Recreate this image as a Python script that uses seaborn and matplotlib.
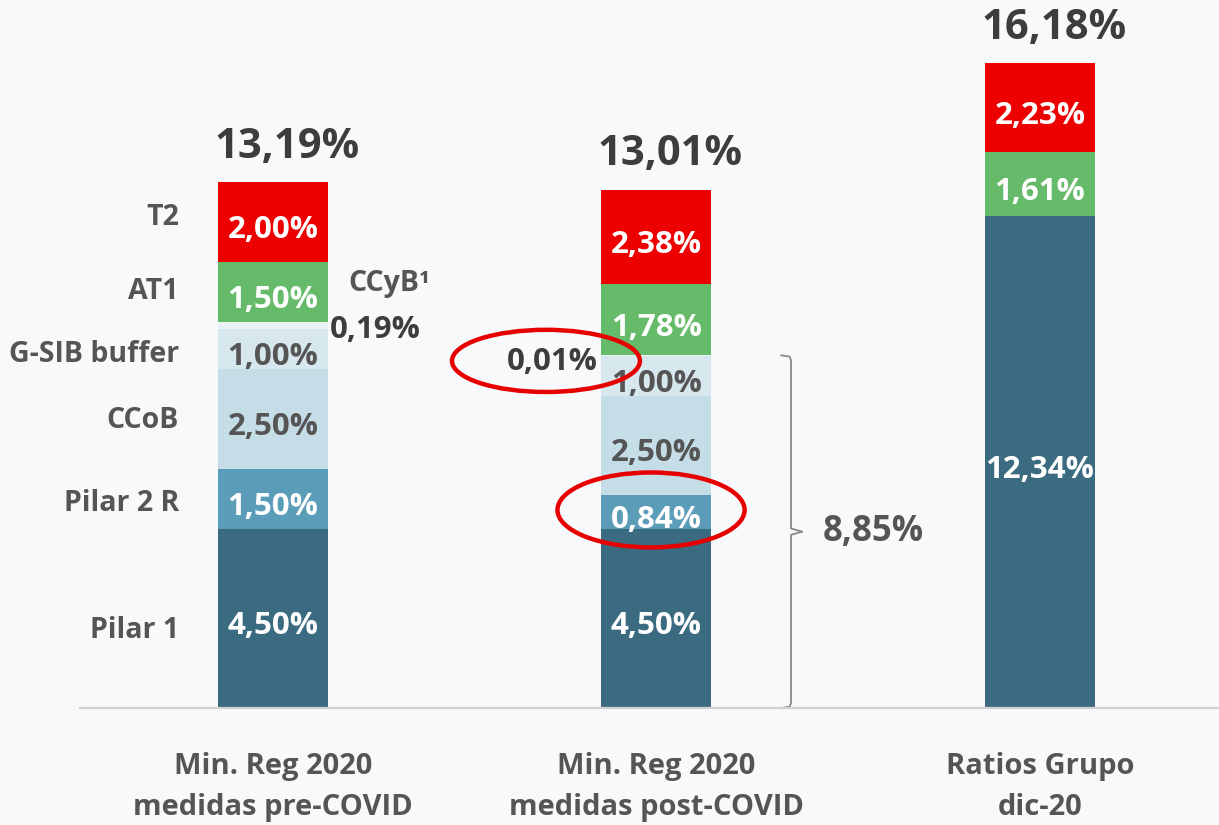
import matplotlib
matplotlib.use("Agg")
import matplotlib.pyplot as plt
from matplotlib import font_manager as fm
from matplotlib.patches import Ellipse
import seaborn as sns

# Capital requirement stacks (%), bottom to top
categories = ["Min. Reg 2020\nmedidas pre-COVID",
              "Min. Reg 2020\nmedidas post-COVID",
              "Ratios Grupo\ndic-20"]
pilar1 = [4.50, 4.50, 12.34]
pilar2r = [1.50, 0.84, 0.00]
ccob = [2.50, 2.50, 0.00]
gsib = [1.00, 1.00, 0.00]
ccyb = [0.19, 0.01, 0.00]
at1 = [1.50, 1.78, 1.61]
t2 = [2.00, 2.38, 2.23]
totals = [13.19, 13.01, 16.18]
bracket_total = 8.85

layer_names = ["Pilar 1", "Pilar 2 R", "CCoB", "G-SIB buffer", "CCyB¹", "AT1", "T2"]
layer_values = [pilar1, pilar2r, ccob, gsib, ccyb, at1, t2]
layer_colors = ["#3a6b80", "#5b9cb8", "#c4dde6", "#d7e7ee", "#ebf3f6", "#66bb6a", "#ec0000"]
label_colors = ["white", "white", "#555555", "#555555", "#555555", "white", "white"]

BG = "#f8f9fb"
DARK = "#3d3d3d"
GREY = "#555555"


def weight_of(entry):
    w = entry.weight
    if isinstance(w, str):
        return {"bold": 700, "semibold": 600, "demibold": 600, "heavy": 800,
                "black": 900, "extra bold": 800}.get(w.lower(), 400)
    return int(w)


# pick the first humanist sans that ships a real bold face
family = "DejaVu Sans"
for fam in ["Noto Sans", "Open Sans", "Lato", "Roboto", "Liberation Sans"]:
    if any(e.name == fam and weight_of(e) >= 600 for e in fm.fontManager.ttflist):
        family = fam
        break

sns.set_theme(style="white")
plt.rcParams["font.family"] = [family, "DejaVu Sans"]
plt.rcParams["font.weight"] = "bold"

fig = plt.figure(figsize=(12.19, 8.25), dpi=100, facecolor=BG)
ax = fig.add_axes([80 / 1219, 1 - 708 / 825, 1139 / 1219, 708 / 825])
ax.set_facecolor(BG)


def fmt(v):
    return f"{v:.2f}".replace(".", ",") + "%"


# cumulative tops per layer
cums = []
running = [0.0, 0.0, 0.0]
for vals in layer_values:
    running = [r + v for r, v in zip(running, vals)]
    cums.append(list(running))

# draw overlapping cumulative bars, tallest first
bar_w = 0.287
for cum, col in reversed(list(zip(cums, layer_colors))):
    sns.barplot(x=categories, y=cum, order=categories, color=col, saturation=1,
                width=bar_w, errorbar=None, ax=ax, linewidth=0)

# segment value labels
for li, (vals, cum) in enumerate(zip(layer_values, cums)):
    if layer_names[li] == "CCyB¹":
        continue
    for i, v in enumerate(vals):
        if v <= 0:
            continue
        yc = cum[i] - v / 2
        ax.text(i, yc - 0.2, fmt(v), ha="center", va="center", fontsize=22.5,
                fontweight="bold", color=label_colors[li])

# totals above bars
for i, tot in enumerate(totals):
    ax.annotate(fmt(tot), xy=(i, tot), xytext=(14, 35), textcoords="offset pixels",
                ha="center", va="center", fontsize=30, fontweight="bold", color=DARK)

# layer names on the left of the first bar
name_pos = {"T2": 12.32, "AT1": 10.44, "G-SIB buffer": 8.88,
            "CCoB": 7.22, "Pilar 2 R": 5.14, "Pilar 1": 1.95}
for name, yv in name_pos.items():
    ax.text(-0.245, yv, name, ha="right", va="center", fontsize=20.5,
            fontweight="bold", color=GREY)

# countercyclical buffer callouts
ax.text(0.303, 10.64, "CCyB¹", ha="center", va="center", fontsize=20.5,
        fontweight="bold", color=GREY)
ax.text(0.268, 9.48, fmt(ccyb[0]), ha="center", va="center", fontsize=22.5,
        fontweight="bold", color=DARK)
ax.text(0.728, 8.68, fmt(ccyb[1]), ha="center", va="center", fontsize=22.5,
        fontweight="bold", color=DARK)

# highlight changes
for (cx, cy, w, h) in [(0.712, 8.71, 0.490, 1.56), (0.986, 4.97, 0.488, 1.88)]:
    ax.add_patch(Ellipse((cx, cy), w, h, fill=False, edgecolor="#e60000",
                         linewidth=3.2, zorder=5))

# bracket for the CET1 requirement
bx, hook, tip = 1.351, 1.325, 1.380
mid = bracket_total / 2
ax.plot([hook, bx - 0.004, bx, bx, tip],
        [bracket_total, bracket_total - 0.03, bracket_total - 0.12, mid + 0.08, mid],
        color="#8a8a8a", lw=1.3, solid_capstyle="round")
ax.plot([tip, bx, bx, bx - 0.004, hook], [mid, mid - 0.08, 0.12, 0.03, 0.0],
        color="#8a8a8a", lw=1.3, solid_capstyle="round")
ax.text(1.434, mid, fmt(bracket_total), ha="left", va="center", fontsize=25,
        fontweight="bold", color=GREY)

ax.set_xlim(-0.503, 2.467)
ax.set_ylim(0, 708 / 39.85)
ax.set_yticks([])
ax.set_ylabel("")
ax.set_xlabel("")
ax.set_xticks(range(len(categories)))
ax.set_xticklabels(categories, fontsize=21, fontweight="bold", color=GREY, linespacing=1.52)
ax.tick_params(axis="x", length=0, pad=32)
for s in ["left", "right", "top"]:
    ax.spines[s].set_visible(False)
ax.spines["bottom"].set_color("#d2d2d2")
ax.spines["bottom"].set_linewidth(1.6)

fig.savefig("out.png", dpi=100, facecolor=BG)
